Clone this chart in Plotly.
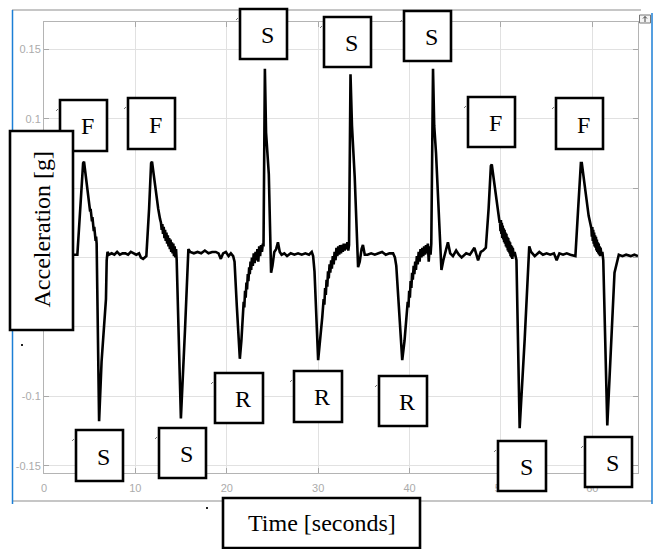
import plotly.graph_objects as go

# ---------------- data ----------------
# time in seconds, acceleration in g, split into event segments
t_f1 = [0, 1, 2, 3, 3.65, 4.0, 4.28, 4.38, 4.5, 4.7, 4.85, 4.95, 5.05, 5.1, 5.15, 5.2, 5.25,
        5.3, 5.35, 5.4, 5.45, 5.5, 5.55, 5.6, 5.65, 5.7, 5.76, 5.83, 6.03, 6.3, 6.6, 6.78,
        6.86, 6.95]
a_f1 = [0.001, 0.002, 0.001, 0.002, 0.002, 0.035, 0.068, 0.069, 0.062, 0.050, 0.041, 0.038,
        0.033, 0.035, 0.029, 0.032, 0.026, 0.029, 0.022, 0.026, 0.019, 0.022, 0.015, 0.019,
        0.012, 0.015, 0.010, -0.023, -0.118, -0.075, -0.045, -0.030, -0.002, 0.004]

t_base1 = [7.1, 7.4, 7.7, 8.0, 8.3, 8.6, 8.9, 9.2, 9.5, 9.8, 10.1, 10.4, 10.6, 10.85, 11.1]
a_base1 = [0.002, 0.003, 0.002, 0.004, 0.002, 0.003, 0.003, 0.002, 0.004, 0.003, 0.002, 0.003,
           0.000, -0.001, 0.001]

t_f2 = [11.2, 11.5, 11.72, 11.82, 11.95, 12.1, 12.32, 12.5, 12.69, 12.8, 12.88, 12.95, 13.02,
        13.1, 13.18, 13.25, 13.32, 13.4, 13.47, 13.55, 13.62, 13.7, 13.77, 13.85, 13.92, 14.0,
        14.07, 14.15, 14.22, 14.3, 14.37, 14.45, 14.52, 14.98, 15.43, 15.7, 15.8]
a_f2 = [0.001, 0.035, 0.068, 0.069, 0.062, 0.054, 0.044, 0.035, 0.028, 0.025, 0.020, 0.024,
        0.017, 0.022, 0.014, 0.020, 0.012, 0.018, 0.010, 0.016, 0.008, 0.014, 0.006, 0.013,
        0.004, 0.011, 0.003, 0.010, 0.001, 0.008, 0.000, 0.006, -0.002, -0.116, -0.052,
        -0.005, 0.006]

t_base2 = [16.0, 16.4, 16.8, 17.2, 17.6, 18.0, 18.4, 18.8, 19.1, 19.35, 19.6, 19.9, 20.2,
           20.45, 20.7]
a_base2 = [0.004, 0.003, 0.004, 0.003, 0.005, 0.003, 0.004, 0.004, 0.003, -0.001, 0.003, 0.004,
           0.001, 0.003, 0.001]

t_r1s1 = [20.85, 21.1, 21.43, 21.6, 21.75, 21.85, 21.92, 22.0, 22.07, 22.15, 22.22, 22.3,
          22.37, 22.45, 22.52, 22.6, 22.67, 22.75, 22.85, 22.95, 23.05, 23.15, 23.25, 23.35,
          23.45, 23.55, 23.65, 23.75, 23.85, 23.95, 24.02, 24.17, 24.3, 24.45, 24.6, 24.85,
          25.0, 25.2, 25.4, 25.6, 25.8, 26.0, 26.3]
a_r1s1 = [-0.003, -0.035, -0.073, -0.060, -0.044, -0.032, -0.036, -0.024, -0.029, -0.018,
          -0.023, -0.012, -0.017, -0.007, -0.012, -0.003, -0.009, 0.000, -0.006, 0.003,
          -0.004, 0.004, -0.002, 0.006, -0.003, 0.008, 0.001, 0.009, 0.004, 0.010, 0.008,
          0.136, 0.090, 0.075, 0.060, -0.011, -0.006, 0.004, 0.006, 0.011, 0.004, 0.002, 0.003]

t_base3 = [26.6, 27.0, 27.4, 27.8, 28.2, 28.6, 29.0, 29.3, 29.45]
a_base3 = [0.001, 0.003, 0.002, 0.003, 0.002, 0.003, 0.002, 0.004, 0.001]

t_r2s2 = [29.6, 30.0, 30.25, 30.45, 30.6, 30.68, 30.76, 30.84, 30.92, 31.0, 31.08, 31.16,
          31.25, 31.33, 31.42, 31.5, 31.6, 31.7, 31.8, 31.9, 32.0, 32.1, 32.2, 32.3, 32.4,
          32.5, 32.6, 32.7, 32.8, 32.9, 33.0, 33.1, 33.2, 33.3, 33.38, 33.54, 33.7, 33.85,
          34.0, 34.37, 34.55, 34.75, 34.9, 35.1, 35.4]
a_r2s2 = [-0.010, -0.074, -0.058, -0.043, -0.030, -0.034, -0.022, -0.027, -0.016, -0.021,
          -0.010, -0.015, -0.005, -0.011, -0.002, -0.008, 0.001, -0.005, 0.004, -0.002, 0.007,
          0.001, 0.008, 0.002, 0.009, 0.003, 0.009, 0.004, 0.010, 0.005, 0.010, 0.006, 0.011,
          0.005, 0.009, 0.132, 0.095, 0.075, 0.058, -0.007, -0.003, 0.006, 0.009, 0.002, 0.002]

t_base4 = [35.8, 36.2, 36.6, 37.0, 37.4, 37.8, 38.2, 38.4]
a_base4 = [0.003, 0.002, 0.003, 0.004, 0.002, 0.003, 0.003, 0.000]

t_r3s3 = [38.55, 39.2, 39.45, 39.65, 39.8, 39.88, 39.96, 40.04, 40.12, 40.2, 40.28, 40.36,
          40.45, 40.53, 40.62, 40.7, 40.8, 40.9, 41.0, 41.1, 41.2, 41.3, 41.4, 41.5, 41.6,
          41.7, 41.8, 41.9, 42.0, 42.1, 42.2, 42.3, 42.38, 42.57, 42.7, 42.9, 43.05, 43.49,
          43.7, 43.95, 44.2, 44.45, 44.75, 45.1, 45.4, 45.7, 46.2, 46.6, 47.1, 47.5, 47.8,
          48.05, 48.35]
a_r3s3 = [-0.006, -0.074, -0.060, -0.045, -0.032, -0.036, -0.024, -0.029, -0.017, -0.022,
          -0.011, -0.016, -0.006, -0.012, -0.003, -0.009, 0.001, -0.005, 0.004, -0.003, 0.006,
          0.000, 0.007, 0.001, 0.008, 0.002, 0.009, 0.003, 0.010, -0.003, 0.008, 0.002, 0.010,
          0.136, 0.095, 0.075, 0.055, -0.009, -0.002, 0.004, 0.011, 0.003, 0.001, 0.005,
          0.002, 0.000, 0.003, 0.002, 0.007, -0.002, 0.004, 0.005, 0.007]

t_f4 = [48.65, 48.9, 49.0, 49.1, 49.3, 49.5, 49.7, 49.86, 49.9, 49.95, 50.0, 50.05, 50.1,
        50.15, 50.2, 50.25, 50.3, 50.35, 50.4, 50.45, 50.5, 50.55, 50.6, 50.65, 50.7, 50.75,
        50.8, 50.85, 50.9, 50.95, 51.0, 51.05, 51.1, 51.15, 51.2, 51.25, 51.3, 51.4, 51.5,
        51.7, 52.05, 52.4, 52.6, 53.1]
a_f4 = [0.035, 0.066, 0.067, 0.062, 0.052, 0.041, 0.031, 0.025, 0.026, 0.019, 0.027, 0.017,
        0.025, 0.014, 0.023, 0.013, 0.021, 0.011, 0.020, 0.010, 0.018, 0.008, 0.017, 0.007,
        0.015, 0.005, 0.014, 0.004, 0.012, 0.003, 0.011, 0.001, 0.009, 0.000, 0.008, -0.001,
        0.007, 0.001, 0.004, -0.002, -0.123, -0.083, -0.059, 0.008]

t_base5 = [53.3, 53.7, 54.2, 54.6, 55.0, 55.4, 55.8, 56.1, 56.4, 56.8, 57.2, 57.6, 58.05]
a_base5 = [0.004, 0.001, 0.004, 0.002, 0.003, 0.002, 0.003, -0.002, 0.003, 0.002, 0.003,
           0.002, 0.001]

t_f5 = [58.15, 58.45, 58.75, 58.85, 59.0, 59.35, 59.6, 59.9, 59.95, 60.0, 60.05, 60.1, 60.15,
        60.2, 60.25, 60.3, 60.35, 60.4, 60.45, 60.5, 60.55, 60.6, 60.65, 60.7, 60.75, 60.8,
        60.85, 60.9, 61.0, 61.1, 61.2, 61.64, 62.07, 62.43, 62.9, 63.3, 63.7, 64.2, 64.6,
        65.0]
a_f5 = [0.001, 0.035, 0.068, 0.068, 0.060, 0.041, 0.030, 0.021, 0.015, 0.022, 0.012, 0.020,
        0.010, 0.018, 0.008, 0.016, 0.007, 0.015, 0.005, 0.013, 0.004, 0.011, 0.003, 0.010,
        0.002, 0.008, 0.001, 0.007, 0.002, 0.004, -0.002, -0.121, -0.059, -0.011, 0.002,
        0.001, 0.002, 0.001, 0.002, 0.001]

segments_t = [t_f1, t_base1, t_f2, t_base2, t_r1s1, t_base3, t_r2s2, t_base4, t_r3s3, t_f4,
              t_base5, t_f5]
segments_a = [a_f1, a_base1, a_f2, a_base2, a_r1s1, a_base3, a_r2s2, a_base4, a_r3s3, a_f4,
              a_base5, a_f5]

x_ticks = [0, 10, 20, 30, 40, 50, 60]
x_ticktext = ["0", "10", "20", "30", "40", "50", "60"]
y_ticks = [0.15, 0.1, 0.05, 0, -0.05, -0.1, -0.15]
y_ticktext = ["0.15", "0.1", "0.05", "0", "-0.05", "-0.1", "-0.15"]

# event labels: (text, left, top, right, bottom) in page pixels
label_boxes = [
    ("F", 60, 100, 107, 151), ("F", 128, 98, 175, 149), ("F", 468, 97, 515, 147),
    ("F", 556, 98, 603, 149),
    ("S", 240, 9, 287, 59), ("S", 324, 17, 371, 67), ("S", 404, 11, 451, 61),
    ("S", 76, 430, 123, 481), ("S", 159, 428, 206, 478), ("S", 498, 441, 546, 491),
    ("S", 585, 437, 632, 487),
    ("R", 215, 373, 263, 423), ("R", 294, 371, 342, 422), ("R", 379, 376, 427, 426),
]
x_title = "Time [seconds]"
y_title = "Acceleration [g]"

# ---------------- figure ----------------
W, H = 655, 549
ML, MR, MT, MB = 44, 17, 22, 76
PW, PH = W - ML - MR, H - MT - MB


def px(x):
    return (x - ML) / PW


def py(y):
    return (H - MB - y) / PH


time_s = [v for seg in segments_t for v in seg]
accel_g = [v for seg in segments_a for v in seg]

fig = go.Figure()
fig.add_trace(go.Scatter(x=time_s, y=accel_g, mode="lines",
                         line=dict(color="black", width=2.6), showlegend=False,
                         hoverinfo="skip"))

shapes = []
# outer figure frame
frame_gray = "#c6c6c6"
frame_blue = "#1c7fd6"
shapes.append(dict(type="line", xref="paper", yref="paper", x0=px(12), x1=px(641),
                   y0=py(10), y1=py(10), line=dict(color=frame_gray, width=2)))
shapes.append(dict(type="line", xref="paper", yref="paper", x0=px(12), x1=px(652),
                   y0=py(501), y1=py(501), line=dict(color=frame_gray, width=2)))
shapes.append(dict(type="line", xref="paper", yref="paper", x0=px(12.5), x1=px(12.5),
                   y0=py(10), y1=py(504), line=dict(color=frame_blue, width=1.5)))
shapes.append(dict(type="line", xref="paper", yref="paper", x0=px(652), x1=px(652),
                   y0=py(13), y1=py(504), line=dict(color=frame_blue, width=1.5)))
# small icon at top right
shapes.append(dict(type="rect", xref="paper", yref="paper", x0=px(639.5), x1=px(650.5),
                   y0=py(15), y1=py(23), line=dict(color="#777777", width=1),
                   fillcolor="#f4f4f4", layer="above"))
shapes.append(dict(type="path", xref="paper", yref="paper",
                   path="M {a},{b} L {c},{d} M {e},{f} L {c},{d} L {g},{f}".format(
                       a=px(645), b=py(22), c=px(645), d=py(16.5), e=px(643), f=py(18.5),
                       g=px(647)),
                   line=dict(color="#444444", width=1), layer="above"))
# stray dots
for dx, dy in [(22, 345), (207, 508)]:
    shapes.append(dict(type="rect", xref="paper", yref="paper", x0=px(dx - 1), x1=px(dx + 1),
                       y0=py(dy - 1), y1=py(dy + 1), line=dict(width=0),
                       fillcolor="#222222", layer="above"))

annotations = []
for txt, l, t, r, b in label_boxes:
    shapes.append(dict(type="rect", xref="paper", yref="paper", x0=px(l), x1=px(r),
                       y0=py(b), y1=py(t), line=dict(color="black", width=2.6),
                       fillcolor="white", layer="above"))
    shapes.append(dict(type="line", xref="paper", yref="paper", x0=px(l - 4), x1=px(l - 2),
                       y0=py(t + 11), y1=py(t + 9), line=dict(color="#777777", width=1),
                       layer="above"))
    annotations.append(dict(text=txt, xref="paper", yref="paper",
                            x=px((l + r) / 2 + 4), y=py((t + b) / 2 + 1),
                            xanchor="center", yanchor="middle", showarrow=False,
                            font=dict(family="Liberation Serif", size=24, color="black")))

# axis title boxes
shapes.append(dict(type="rect", xref="paper", yref="paper", x0=px(10), x1=px(73),
                   y0=py(330), y1=py(131), line=dict(color="black", width=2.6),
                   fillcolor="white", layer="above"))
annotations.append(dict(text=y_title, xref="paper", yref="paper", x=px(41.5), y=py(229),
                        xanchor="center", yanchor="middle", showarrow=False, textangle=-90,
                        font=dict(family="Liberation Serif", size=24, color="black")))
shapes.append(dict(type="rect", xref="paper", yref="paper", x0=px(223), x1=px(420),
                   y0=py(548), y1=py(498), line=dict(color="black", width=2.6),
                   fillcolor="white", layer="above"))
annotations.append(dict(text=x_title, xref="paper", yref="paper", x=px(321.5), y=py(523),
                        xanchor="center", yanchor="middle", showarrow=False,
                        font=dict(family="Liberation Serif", size=24, color="black")))

axis_common = dict(showgrid=True, gridcolor="#e1e1e1", gridwidth=1, zeroline=False,
                   showline=True, linecolor="#b4b4b4", linewidth=1, mirror="ticks",
                   ticks="inside", ticklen=5, tickcolor="#a8a8a8",
                   tickfont=dict(family="Liberation Sans", size=11, color="#ababab"))

fig.update_layout(
    width=W, height=H, autosize=False,
    margin=dict(l=ML, r=MR, t=MT, b=MB, pad=0),
    paper_bgcolor="white", plot_bgcolor="white",
    xaxis=dict(range=[0, 65], tickvals=x_ticks, ticktext=x_ticktext, ticklabelstandoff=5,
               **axis_common),
    yaxis=dict(range=[-0.1553, 0.1697], tickvals=y_ticks, ticktext=y_ticktext,
               **axis_common),
    shapes=shapes, annotations=annotations,
)

fig.write_html("out.html")
